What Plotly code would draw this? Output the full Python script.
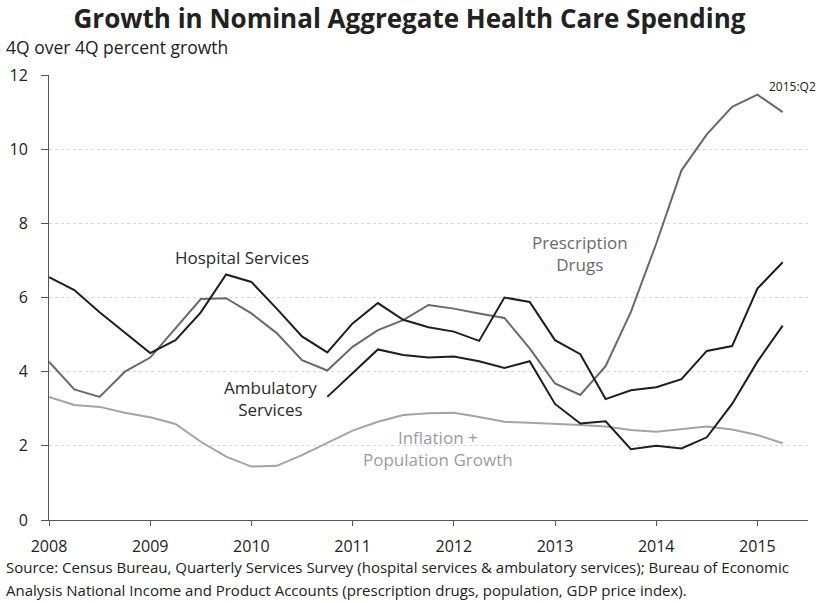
import plotly.graph_objects as go

# Quarterly observations, 2008:Q1 through 2015:Q2
quarters = [f"{y}:Q{q}" for y in range(2008, 2016) for q in range(1, 5)][:30]

hospital = [6.55, 6.2, 5.6, 5.05, 4.5, 4.85, 5.6, 6.62,
            6.42, 5.7, 4.95, 4.52, 5.3, 5.85, 5.4, 5.2,
            5.08, 4.83, 6.0, 5.88, 4.85, 4.47, 3.26, 3.5,
            3.58, 3.8, 4.56, 4.69, 6.24, 6.95]

# ambulatory series starts in 2010:Q4
ambulatory = [None] * 11 + [3.32, 3.96, 4.6, 4.45, 4.38,
                            4.41, 4.28, 4.1, 4.28, 3.13, 2.6, 2.66, 1.91,
                            2.0, 1.93, 2.23, 3.13, 4.27, 5.24]

prescription = [4.27, 3.52, 3.32, 4.0, 4.38, 5.17, 5.96, 5.98,
                5.57, 5.04, 4.31, 4.03, 4.67, 5.12, 5.39, 5.8,
                5.7, 5.57, 5.45, 4.63, 3.68, 3.37, 4.15, 5.61,
                7.45, 9.43, 10.4, 11.14, 11.47, 11.0]

infl_pop = [3.32, 3.1, 3.05, 2.89, 2.77, 2.59, 2.11, 1.71,
            1.44, 1.46, 1.75, 2.09, 2.41, 2.65, 2.83, 2.88,
            2.89, 2.78, 2.65, 2.62, 2.58, 2.56, 2.52, 2.43,
            2.38, 2.45, 2.52, 2.44, 2.29, 2.07]

year_ticks = list(range(2008, 2016))

x = [int(s[:4]) + (int(s[-1]) - 1) / 4 for s in quarters]

FONT = "Open Sans"

fig = go.Figure()
fig.add_trace(go.Scatter(x=x, y=infl_pop, mode="lines", name="Inflation + Population Growth",
                         line=dict(color="#a4a4a4", width=2)))
fig.add_trace(go.Scatter(x=x, y=prescription, mode="lines", name="Prescription Drugs",
                         line=dict(color="#6a6a6a", width=2)))
fig.add_trace(go.Scatter(x=x, y=ambulatory, mode="lines", name="Ambulatory Services",
                         line=dict(color="#1e1e1e", width=2)))
fig.add_trace(go.Scatter(x=x, y=hospital, mode="lines", name="Hospital Services",
                         line=dict(color="#1e1e1e", width=2)))

# in-chart series labels
labels = [
    (2009.91, 7.09, "Hospital Services", "#2a2a2a"),
    (2010.19, 3.29, "Ambulatory<br>Services", "#2a2a2a"),
    (2013.25, 7.2, "Prescription<br>Drugs", "#6a6a6a"),
    (2011.84, 1.94, "Inflation +<br>Population Growth", "#9c9c9c"),
]
for lx, ly, txt, col in labels:
    fig.add_annotation(x=lx, y=ly, text=txt, showarrow=False,
                       font=dict(family=FONT, size=17, color=col))

fig.add_annotation(x=1, y=(520 - 86) / 445, xref="paper", yref="paper", text="2015:Q2",
                   showarrow=False, xanchor="right", yanchor="middle", xshift=10,
                   font=dict(family=FONT, size=12, color="#222222"))

fig.update_layout(
    width=819, height=603,
    margin=dict(l=49, r=11, t=75, b=83),
    paper_bgcolor="white", plot_bgcolor="white",
    showlegend=False,
    font=dict(family=FONT, size=16, color="#222222"),
    title=dict(text="<b>Growth in Nominal Aggregate Health Care Spending</b>",
               x=0.5, xanchor="center", y=0.969, yanchor="middle",
               font=dict(family=FONT, size=26, color="#222222")),
)
fig.add_annotation(x=0, y=1.063, xref="paper", yref="paper", xanchor="left", yanchor="middle",
                   xshift=-45, text="4Q over 4Q percent growth", showarrow=False,
                   font=dict(family=FONT, size=17.5, color="#222222"))

source_lines = [
    "Source: Census Bureau, Quarterly Services Survey (hospital services &amp; ambulatory services); Bureau of Economic",
    "Analysis National Income and Product Accounts (prescription drugs, population, GDP price index).",
]
for i, line in enumerate(source_lines):
    fig.add_annotation(x=0, y=(520 - (567 + 23 * i)) / 445, xref="paper", yref="paper",
                       xanchor="left", yanchor="middle", xshift=-45, showarrow=False,
                       text=line, font=dict(family=FONT, size=15, color="#222222"))

fig.update_xaxes(range=[2008, 2015.5], tickvals=year_ticks, ticktext=[str(v) for v in year_ticks],
                 showgrid=False, zeroline=False, showline=True, linecolor="#555555", linewidth=1,
                 ticks="outside", ticklen=5, tickcolor="#555555", ticklabelstandoff=7,
                 tickfont=dict(family=FONT, size=16, color="#222222"))
fig.update_yaxes(range=[0, 12], tickvals=[0, 2, 4, 6, 8, 10, 12],
                 showgrid=True, gridcolor="#d8d8d8", griddash="dot", gridwidth=1,
                 zeroline=False, showline=True, linecolor="#555555", linewidth=1,
                 ticks="outside", ticklen=7, tickcolor="#555555", ticklabelstandoff=10,
                 tickfont=dict(family=FONT, size=16, color="#222222"))

fig.write_html("out.html", config={"displayModeBar": False},
               post_script="document.body.style.margin='0';")
